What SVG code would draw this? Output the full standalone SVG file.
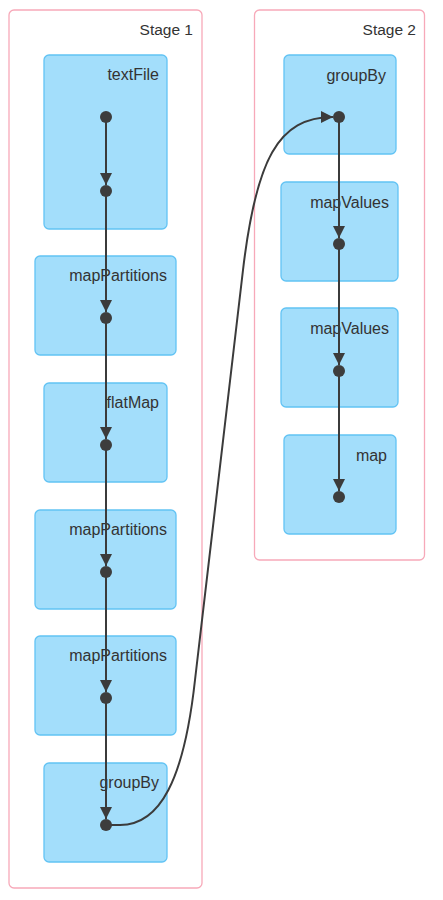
<svg xmlns="http://www.w3.org/2000/svg" width="443" height="900" viewBox="0 0 443 900">
<style>
.cluster{fill:#ffffff;stroke:#f7a9b9;stroke-width:1.3}
.node rect{fill:#a3defb;stroke:#62c3f4;stroke-width:1.3}
text{font-family:"Liberation Sans",Arial,sans-serif;fill:#333333;text-anchor:end}
.lbl{font-size:16px}
.ttl{font-size:15.5px}
.edge{fill:none;stroke:#3b3b3b;stroke-width:2}
.dot{fill:#3d3d3d}
</style>
<defs>
<marker id="arr" viewBox="0 0 10 10" refX="10" refY="5" markerWidth="12" markerHeight="12" markerUnits="userSpaceOnUse" orient="auto">
<path d="M0,0 L10,5 L0,10 z" fill="#3b3b3b"/>
</marker>
</defs>
<g id="stage1">
<rect class="cluster" x="9" y="10" width="193" height="878" rx="5"/>
<text class="ttl" x="193" y="35">Stage 1</text>
</g>
<g id="stage2">
<rect class="cluster" x="254.5" y="10" width="170" height="550" rx="5"/>
<text class="ttl" x="416" y="35">Stage 2</text>
</g>
<g id="n-textFile" class="node"><rect x="44" y="55" width="123" height="174" rx="5"/><text class="lbl" x="159" y="80">textFile</text></g>
<g id="n-mapPartitions1" class="node"><rect x="35" y="256" width="141" height="99" rx="5"/><text class="lbl" x="167" y="281">mapPartitions</text></g>
<g id="n-flatMap" class="node"><rect x="44" y="383" width="123" height="99" rx="5"/><text class="lbl" x="159" y="408">flatMap</text></g>
<g id="n-mapPartitions2" class="node"><rect x="35" y="510" width="141" height="99" rx="5"/><text class="lbl" x="167" y="535">mapPartitions</text></g>
<g id="n-mapPartitions3" class="node"><rect x="35" y="636" width="141" height="99" rx="5"/><text class="lbl" x="167" y="661">mapPartitions</text></g>
<g id="n-groupBy1" class="node"><rect x="44" y="763" width="123" height="99" rx="5"/><text class="lbl" x="159" y="788">groupBy</text></g>
<g id="n-groupBy2" class="node"><rect x="284" y="55" width="112" height="99" rx="5"/><text class="lbl" x="386" y="81">groupBy</text></g>
<g id="n-mapValues1" class="node"><rect x="281" y="182" width="117" height="99" rx="5"/><text class="lbl" x="389" y="208">mapValues</text></g>
<g id="n-mapValues2" class="node"><rect x="281" y="308" width="117" height="99" rx="5"/><text class="lbl" x="389" y="334">mapValues</text></g>
<g id="n-map" class="node"><rect x="284" y="435" width="112" height="99" rx="5"/><text class="lbl" x="387" y="461">map</text></g>
<g id="connectors">
<path class="edge" d="M106,117 L106,185" marker-end="url(#arr)"/>
<path class="edge" d="M106,191 L106,312" marker-end="url(#arr)"/>
<path class="edge" d="M106,318 L106,439" marker-end="url(#arr)"/>
<path class="edge" d="M106,445 L106,566" marker-end="url(#arr)"/>
<path class="edge" d="M106,572 L106,692" marker-end="url(#arr)"/>
<path class="edge" d="M106,698 L106,819" marker-end="url(#arr)"/>
<path class="edge" d="M106,825 L120,825 C160,825 184,780 195,680 L243,270 C256,160 278,117 333,117" marker-end="url(#arr)"/>
<path class="edge" d="M339,117 L339,238" marker-end="url(#arr)"/>
<path class="edge" d="M339,244 L339,365" marker-end="url(#arr)"/>
<path class="edge" d="M339,371 L339,491" marker-end="url(#arr)"/>
</g>
<g id="dots">
<circle class="dot" cx="106" cy="117" r="6"/>
<circle class="dot" cx="106" cy="191" r="6"/>
<circle class="dot" cx="106" cy="318" r="6"/>
<circle class="dot" cx="106" cy="445" r="6"/>
<circle class="dot" cx="106" cy="572" r="6"/>
<circle class="dot" cx="106" cy="698" r="6"/>
<circle class="dot" cx="106" cy="825" r="6"/>
<circle class="dot" cx="339" cy="117" r="6"/>
<circle class="dot" cx="339" cy="244" r="6"/>
<circle class="dot" cx="339" cy="371" r="6"/>
<circle class="dot" cx="339" cy="497" r="6"/>
</g>
</svg>
